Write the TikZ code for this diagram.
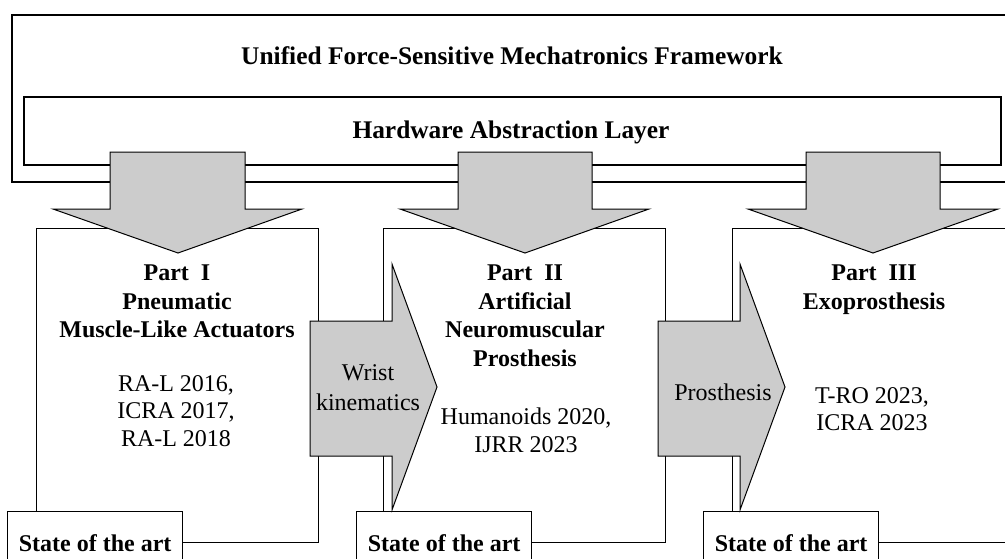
\documentclass[tikz,border=0pt]{standalone}
\usepackage{fontspec}
\setmainfont{Liberation Serif}
\definecolor{arrowgray}{RGB}{204,204,204}
\begin{document}
\begin{tikzpicture}[x=1pt,y=-1pt,
  frame/.style={draw, line width=1.6pt, inner sep=0pt, anchor=north west},
  partbox/.style={draw, fill=white, line width=1.3pt, inner sep=0pt, anchor=north west, minimum width=282pt, minimum height=314pt},
  statebox/.style={draw, fill=white, line width=1.3pt, inner sep=0pt, anchor=north west, minimum width=175pt, minimum height=64pt, font=\fontsize{24}{28}\selectfont\bfseries},
  bigarrow/.style={draw, fill=arrowgray, line width=1pt, line join=miter},
  ttxt/.style={inner sep=0pt, align=center, font=\fontsize{25.4}{30}\selectfont\bfseries},
  btxt/.style={inner sep=0pt, align=center, font=\fontsize{24}{28.5}\selectfont\bfseries},
  ntxt/.style={inner sep=0pt, align=center, font=\fontsize{24}{27.5}\selectfont}
]
\useasboundingbox (0,0) rectangle (1005,558);
\clip (0,0) rectangle (1005,558);

% frames
\node[frame, minimum width=1010pt, minimum height=167pt] (outer) at (11,14) {};
\node[frame, minimum width=977pt, minimum height=68pt] (hal) at (23,96) {};
\node[ttxt, anchor=base] (title) at (512,64) {Unified Force-Sensitive Mechatronics Framework};
\node[ttxt, anchor=base] (haltxt) at (511,138) {Hardware Abstraction Layer};

% part boxes
\node[partbox] (p1) at (36,228) {};
\node[partbox] (p2) at (383,228) {};
\node[partbox] (p3) at (732,228) {};

% state boxes
\node[statebox] (s1) at (7,511) {State of the art};
\node[statebox] (s2) at (356,511) {State of the art};
\node[statebox] (s3) at (703,511) {State of the art};

% down arrows
\draw[bigarrow] (110,152) -- (245,152) -- (245,209) -- (302,209) -- (178,253) -- (53,209) -- (110,209) -- cycle;
\draw[bigarrow] (458,152) -- (592,152) -- (592,209) -- (649,209) -- (525,253) -- (400,209) -- (458,209) -- cycle;
\draw[bigarrow] (806,152) -- (940,152) -- (940,209) -- (998,209) -- (873,253) -- (748,209) -- (806,209) -- cycle;

% right arrows
\draw[bigarrow] (310,321) -- (392,321) -- (392,264) -- (437,387) -- (392,510) -- (392,456) -- (310,456) -- cycle;
\draw[bigarrow] (658,321) -- (740,321) -- (740,264) -- (785,387) -- (740,510) -- (740,456) -- (658,456) -- cycle;

% part texts
\node[btxt, anchor=north] (t1) at (177,265) {Part\ \ I\\Pneumatic\\Muscle-Like Actuators};
\node[btxt, anchor=north] (t2) at (525,265) {Part\ \ II\\Artificial\\Neuromuscular\\Prosthesis};
\node[btxt, anchor=north] (t3) at (874,265) {Part\ \ III\\Exoprosthesis};

\node[ntxt, anchor=north] (pub1) at (176,375) {RA-L 2016,\\ICRA 2017,\\RA-L 2018};
\node[ntxt, anchor=north] (pub2) at (526,408) {Humanoids 2020,\\IJRR 2023};
\node[ntxt, anchor=north] (pub3) at (872,387) {T-RO 2023,\\ICRA 2023};

\node[inner sep=0pt, align=center, font=\fontsize{24}{30.5}\selectfont, anchor=north] (a1) at (368,364) {Wrist\\kinematics};
\node[ntxt, anchor=base] (a2) at (723,400) {Prosthesis};
\end{tikzpicture}
\end{document}
